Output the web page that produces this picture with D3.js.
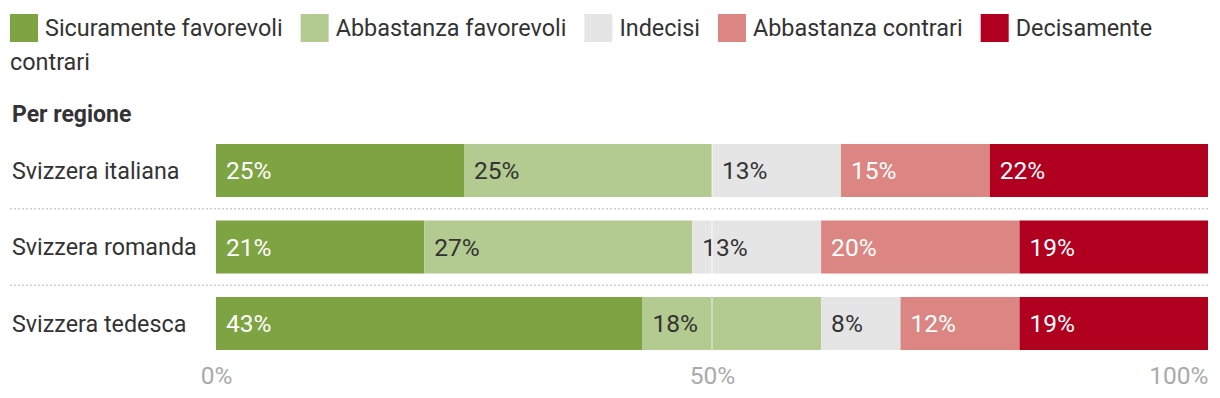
<!DOCTYPE html>
<html>
<head>
<meta charset="utf-8">
<script src="https://cdn.jsdelivr.net/npm/d3@7"></script>
<style>
  body { margin: 0; background: #fff; font-family: Roboto, "Noto Sans", sans-serif; color: #333; }
  svg { display: block; }
</style>
</head>
<body>
<svg id="chart"></svg>
<script>
document.addEventListener('DOMContentLoaded', function() {
  // data
  const categories = ["Sicuramente favorevoli", "Abbastanza favorevoli", "Indecisi", "Abbastanza contrari", "Decisamente contrari"];
  const colors = ["#7ea342", "#b3ca90", "#e5e5e5", "#db8682", "#b1001f"];
  const labelColors = ["#fff", "#333", "#333", "#fff", "#fff"];
  const regions = ["Svizzera italiana", "Svizzera romanda", "Svizzera tedesca"];
  const italiana = [25, 25, 13, 15, 22];
  const romanda = [21, 27, 13, 20, 19];
  const tedesca = [43, 18, 8, 12, 19];
  const seriesValues = [italiana, romanda, tedesca];
  const tickValues = [0, 50, 100];
  const tickLabels = ["0%", "50%", "100%"];

  const width = 1220, height = 398;
  const left = 216, right = 1208;
  const font = "Roboto, 'Noto Sans', sans-serif";

  const svg = d3.select("#chart")
      .attr("width", width)
      .attr("height", height)
      .attr("font-family", font);

  // legend, wrapping words of the last item onto a new line when it runs out of room
  const legend = svg.append("g").attr("class", "legend");
  const maxX = 1200, lineH = 34;
  let lx = 10, line = 0;
  categories.forEach((c, i) => {
    legend.append("rect")
        .attr("x", lx).attr("y", 14 + line * lineH)
        .attr("width", 28).attr("height", 28)
        .attr("fill", colors[i]);
    lx += 35;
    const words = c.split(" ");
    let cur = [];
    let t = legend.append("text")
        .attr("x", lx).attr("y", 28 + line * lineH)
        .attr("dy", "0.35em")
        .attr("font-size", 23.4)
        .attr("fill", "#333");
    words.forEach(w => {
      t.text(cur.concat(w).join(" "));
      if (lx + t.node().getComputedTextLength() > maxX && cur.length) {
        t.text(cur.join(" "));
        line += 1;
        lx = 10;
        cur = [w];
        t = legend.append("text")
            .attr("x", lx).attr("y", 28 + line * lineH)
            .attr("dy", "0.35em")
            .attr("font-size", 23.4)
            .attr("fill", "#333")
            .text(w);
      } else {
        cur.push(w);
      }
    });
    lx += t.node().getComputedTextLength() + 18;
  });

  const x = d3.scaleLinear().domain([0, 100]).range([left, right]);
  const y = d3.scaleBand()
      .domain(regions)
      .range([132.25, 361.75])
      .paddingInner(0.307)
      .paddingOuter(0.1535);

  svg.append("text")
      .attr("x", 12)
      .attr("y", 122)
      .attr("font-size", 23)
      .attr("font-weight", "bold")
      .attr("fill", "#333")
      .text("Per regione");

  // dotted separators between rows
  const step = y.step();
  regions.slice(0, -1).forEach(r => {
    const yy = y(r) + y.bandwidth() + (step - y.bandwidth()) / 2;
    svg.append("line")
        .attr("x1", 10).attr("x2", right)
        .attr("y1", yy).attr("y2", yy)
        .attr("stroke", "#cfcfcf")
        .attr("stroke-width", 1.5)
        .attr("stroke-dasharray", "2,2");
  });

  // row labels
  svg.selectAll(".rowlabel")
      .data(regions)
      .enter().append("text")
      .attr("class", "rowlabel")
      .attr("x", 12)
      .attr("y", d => y(d) + y.bandwidth() / 2)
      .attr("dy", "0.35em")
      .attr("font-size", 23.3)
      .attr("fill", "#333")
      .text(d => d);

  // stacked segments
  regions.forEach((r, ri) => {
    const vals = seriesValues[ri];
    let acc = 0;
    const g = svg.append("g");
    vals.forEach((v, i) => {
      const x0 = acc, x1 = acc + v;
      acc = x1;
      g.append("rect")
          .attr("x", x(x0))
          .attr("y", y(r))
          .attr("width", x(x1) - x(x0))
          .attr("height", y.bandwidth())
          .attr("fill", colors[i]);
      g.append("text")
          .attr("x", x(x0) + 10)
          .attr("y", y(r) + y.bandwidth() / 2)
          .attr("dy", "0.36em")
          .attr("font-size", 24.5)
          .attr("fill", labelColors[i])
          .text(v + "%");
    });
  });

  // 50% grid line over bars
  svg.append("line")
      .attr("x1", x(50)).attr("x2", x(50))
      .attr("y1", y(regions[0])).attr("y2", y(regions[2]) + y.bandwidth())
      .attr("stroke", "#fff")
      .attr("stroke-opacity", 0.5)
      .attr("stroke-width", 1.5);

  // axis
  const axis = d3.axisBottom(x)
      .tickValues(tickValues)
      .tickFormat((d, i) => tickLabels[i])
      .tickSize(0)
      .tickPadding(0);
  const ax = svg.append("g")
      .attr("transform", "translate(0,367)")
      .call(axis);
  ax.select(".domain").remove();
  ax.selectAll("text")
      .attr("font-size", 24.5)
      .attr("font-family", font)
      .attr("fill", "#aaa")
      .attr("dy", "0.71em")
      .attr("text-anchor", (d, i) => i === tickValues.length - 1 ? "end" : "middle");
});
</script>
</body>
</html>
